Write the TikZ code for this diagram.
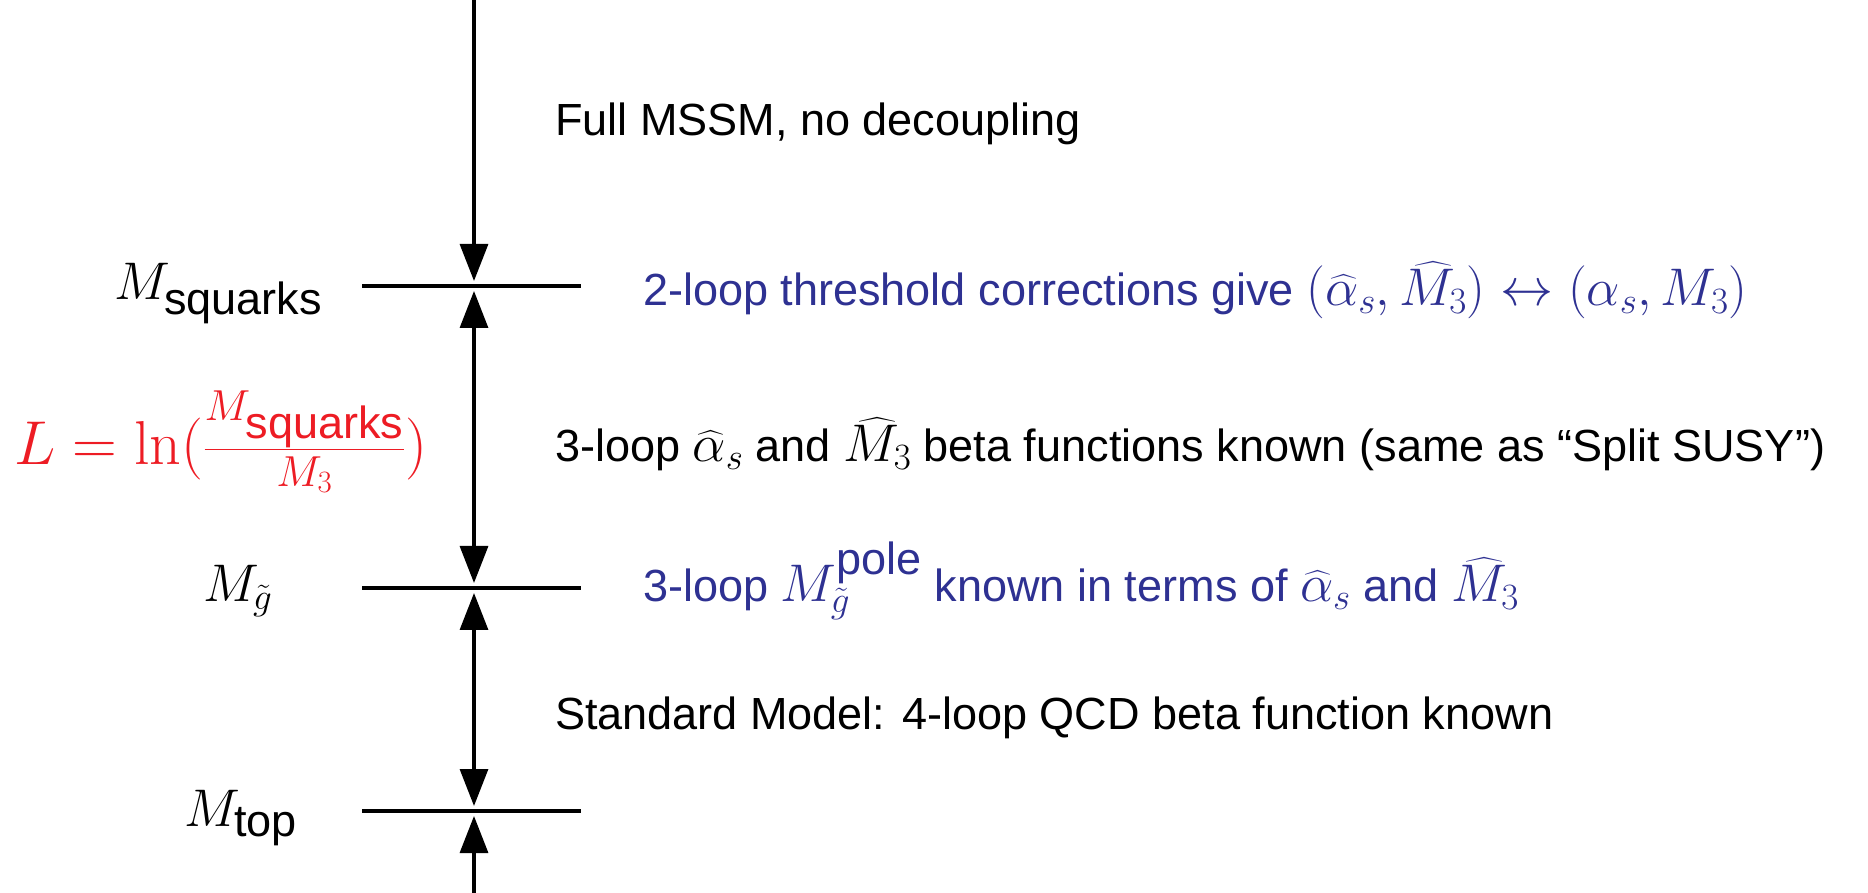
\RequirePackage{fix-cm}
\documentclass[tikz,border=0pt]{standalone}
\usepackage{amsmath}
\usepackage[no-math]{fontspec}
\setmainfont{Liberation Sans}[Scale=0.85]
\usetikzlibrary{arrows.meta}
\definecolor{txtblue}{RGB}{46,49,146}
\definecolor{txtred}{RGB}{237,28,36}
\begin{document}
\begin{tikzpicture}[x=1pt,y=1pt,
  every node/.style={inner sep=0pt,outer sep=0pt,font=\fontsize{53}{62}\selectfont},
  bar/.style={line width=4.5pt},
  vline/.style={line width=3.2pt},
  tip/.style={-{Triangle[width=28pt,length=37pt]}},
  dtip/.style={{Triangle[width=28pt,length=37pt]}-{Triangle[width=28pt,length=37pt]}},
  lbl/.style={anchor=base west},
  blu/.style={anchor=base west,text=txtblue},
]
\useasboundingbox (0,0) rectangle (1868,892);
% levels
\coordinate (top) at (474,895);
\coordinate (sq) at (474,606);
\coordinate (gl) at (474,304);
\coordinate (tp) at (474,81);
\coordinate (bot) at (474,-3);
\coordinate (sqL) at (362,606); \coordinate (sqR) at (581,606);
\coordinate (glL) at (362,304); \coordinate (glR) at (581,304);
\coordinate (tpL) at (362,81);  \coordinate (tpR) at (581,81);
\draw[bar] (sqL) -- (sqR);
\draw[bar] (glL) -- (glR);
\draw[bar] (tpL) -- (tpR);
\draw[vline,tip,shorten >=5pt] (top) -- (sq);
\draw[vline,dtip,shorten >=5pt,shorten <=5pt] (sq) -- (gl);
\draw[vline,dtip,shorten >=5pt,shorten <=5pt] (gl) -- (tp);
\draw[vline,tip,shorten >=5pt] (bot) -- (tp);
% scale labels
\node[lbl] (msq) at (114,592) {$M_{\mbox{squarks}}$};
\node[lbl] (mgl) at (203,290) {$M_{\tilde g}$};
\node[lbl] (mtp) at (184,66) {$M_{\mbox{top}}$};
\node[lbl,text=txtred,font=\fontsize{62}{70}\selectfont] (L) at (14,427) {$L=\ln(\frac{M_{\mbox{\fontsize{53}{60}\selectfont squarks}}}{M_3})$};
% descriptions
\node[lbl] (t1) at (555,756) {Full MSSM, no decoupling};
\node[blu] (t2) at (643,586) {2-loop threshold corrections give $(\widehat{\alpha}_s,\widehat{M_3})\leftrightarrow(\alpha_s,M_3)$};
\node[lbl] (t3) at (555,430) {3-loop $\widehat{\alpha}_s$ and $\widehat{M_3}$ beta functions known (same as “Split SUSY”)};
\node[blu] (t4) at (643,290) {3-loop $M_{\tilde g}^{\mbox{pole}}$ known in terms of $\widehat{\alpha}_s$ and $\widehat{M_3}$};
\node[lbl] (t5) at (555,163) {Standard Model: 4-loop QCD beta function known};
\end{tikzpicture}
\end{document}
